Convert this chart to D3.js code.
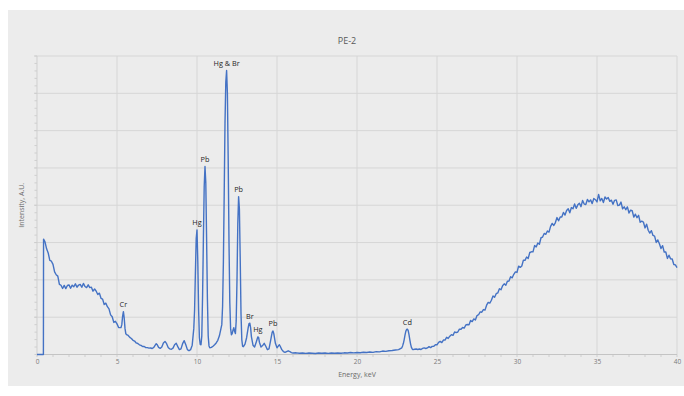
<!DOCTYPE html>
<html><head><meta charset="utf-8">
<script src="https://cdn.jsdelivr.net/npm/d3@7"></script>
<style>html,body{margin:0;padding:0;background:#fff;}svg{display:block;font-family:"Open Sans","Noto Sans",sans-serif;}</style>
</head><body>
<svg id="chart" width="684" height="396"></svg>
<script>
const chartTitle = "PE-2";
const xLabel = "Energy, keV";
const yLabel = "Intensity, A.U.";
const xTicks = [0,5,10,15,20,25,30,35,40];
const yGrid = [0,1000,2000,3000,4000,5000,6000,7000,8000];

// spectrum: [energy keV, intensity]
const lowEnergy = [
 [0,0],[0.4,0],[0.41,3090],[0.5,3018],[0.6,2832],[0.7,2722],[0.8,2520],[0.9,2500],[1.0,2414],
 [1.1,2214],[1.2,2138],[1.3,2100],[1.4,1882],[1.5,1856],[1.6,1770],[1.7,1852],[1.8,1766],[1.9,1849],
 [2.0,1866],[2.1,1775],[2.2,1858],[2.3,1816],[2.4,1894],[2.5,1803],[2.6,1862],[2.7,1880],[2.8,1802],
 [2.9,1905],[3.0,1822],[3.1,1794],[3.2,1868],[3.3,1794],[3.4,1804],[3.5,1696],[3.6,1756],[3.7,1696],
 [3.8,1608],[3.9,1644],[4.0,1506],[4.1,1483],[4.2,1340],[4.3,1377],[4.4,1282],[4.5,1223],[4.6,1062],
 [4.7,1012],[4.8,860],[4.9,890],[5.0,820],[5.1,724],[5.2,720]
];
const peakRegion = [
 [5.25,720],[5.3,800],[5.35,1020],[5.4,1150],[5.45,980],[5.5,700],[5.55,560],[5.6,530],[5.7,510],
 [5.8,460],[5.9,430],[6.0,380],[6.1,360],[6.2,310],[6.3,295],[6.4,260],[6.5,245],[6.6,215],[6.7,215],
 [6.8,185],[6.9,185],[7.0,170],[7.1,175],[7.2,160],[7.3,190],[7.4,260],[7.45,290],[7.5,270],[7.6,190],
 [7.7,165],[7.8,200],[7.9,310],[8.0,350],[8.1,290],[8.2,190],[8.3,150],[8.4,140],[8.5,170],[8.6,260],
 [8.7,300],[8.8,210],[8.9,130],[9.0,150],[9.1,290],[9.2,370],[9.3,260],[9.4,130],[9.5,100],[9.6,130],
 [9.7,250],[9.8,700],[9.85,1200],[9.9,2200],[9.95,3100],[10.0,3340],[10.05,2500],[10.1,1200],[10.15,450],
 [10.2,270],[10.25,260],[10.3,500],[10.35,1600],[10.4,3100],[10.45,4500],[10.5,5040],[10.55,4600],
 [10.6,3100],[10.65,1500],[10.7,500],[10.75,230],[10.8,180],[10.9,190],[11.0,220],[11.1,260],[11.2,310],
 [11.3,380],[11.4,500],[11.5,700],[11.55,800],[11.6,1300],[11.65,2500],[11.7,4300],[11.75,6200],
 [11.8,7300],[11.85,7610],[11.9,7000],[11.95,5200],[12.0,3000],[12.05,1400],[12.1,700],[12.15,530],
 [12.2,560],[12.25,650],[12.3,720],[12.35,620],[12.4,560],[12.45,900],[12.5,2000],[12.55,3500],
 [12.6,4230],[12.65,3900],[12.7,2600],[12.75,1100],[12.8,400],[12.85,220],[12.9,210],[13.0,280],
 [13.1,450],[13.2,720],[13.25,830],[13.3,840],[13.35,720],[13.4,480],[13.5,250],[13.6,200],[13.7,330],
 [13.8,470],[13.85,460],[13.9,330],[14.0,200],[14.1,240],[14.2,300],[14.3,220],[14.4,130],[14.5,150],
 [14.6,370],[14.7,600],[14.75,630],[14.8,560],[14.9,300],[15.0,180],[15.1,240],[15.15,260],[15.2,220],
 [15.3,130],[15.4,80],[15.5,60],[15.6,80],[15.7,100],[15.8,80],[15.9,50],[16.0,40]
];
const midRegion = [
 [16.2,45],[16.4,35],[16.6,42],[16.8,30],[17.0,40],[17.2,35],[17.4,28],[17.6,40],[17.8,33],[18.0,42],
 [18.2,30],[18.4,40],[18.6,35],[18.8,42],[19.0,33],[19.2,45],[19.4,40],[19.6,52],[19.8,44],[20.0,55],
 [20.2,48],[20.4,62],[20.6,55],[20.8,66],[21.0,58],[21.2,76],[21.4,70],[21.6,92],[21.8,84],[22.0,102],
 [22.2,108],[22.4,122],[22.6,130],[22.8,180],[22.85,230],[22.9,300],[22.95,400],[23.0,520],[23.05,620],
 [23.1,670],[23.15,680],[23.2,640],[23.25,530],[23.3,400],[23.35,280],[23.4,190],[23.45,150],[23.5,130],
 [23.6,140]
];
const highEnergy = [
 [23.7,147],[23.8,135],[23.9,148],[24.0,135],[24.1,163],[24.2,176],[24.3,161],[24.4,176],[24.5,210],
 [24.6,184],[24.7,217],[24.8,222],[24.9,264],[25.0,260],[25.1,324],[25.2,351],[25.3,320],[25.4,388],
 [25.5,386],[25.6,460],[25.7,431],[25.8,491],[25.9,530],[26.0,512],[26.1,603],[26.2,586],[26.3,603],
 [26.4,680],[26.5,676],[26.6,724],[26.7,708],[26.8,791],[26.9,804],[27.0,795],[27.1,911],[27.2,882],
 [27.3,953],[27.4,924],[27.5,1045],[27.6,1066],[27.7,1142],[27.8,1133],[27.9,1204],[28.0,1190],
 [28.1,1321],[28.2,1397],[28.3,1378],[28.4,1454],[28.5,1570],[28.6,1532],[28.7,1629],[28.8,1651],
 [28.9,1763],[29.0,1735],[29.1,1842],[29.2,1894],[29.3,1856],[29.4,1963],[29.5,1970],[29.6,2085],
 [29.7,2055],[29.8,2150],[29.9,2215],[30.0,2200],[30.1,2368],[30.2,2335],[30.3,2372],[30.4,2528],
 [30.5,2523],[30.6,2612],[30.7,2575],[30.8,2734],[30.9,2753],[31.0,2751],[31.1,2919],[31.2,2884],
 [31.3,2989],[31.4,2954],[31.5,3129],[31.6,3148],[31.7,3244],[31.8,3221],[31.9,3310],[32.0,3280],
 [32.1,3435],[32.2,3513],[32.3,3458],[32.4,3536],[32.5,3670],[32.6,3584],[32.7,3687],[32.8,3685],
 [32.9,3809],[33.0,3737],[33.1,3862],[33.2,3907],[33.3,3799],[33.4,3938],[33.5,3906],[33.6,4035],
 [33.7,3916],[33.8,4011],[33.9,4055],[34.0,3962],[34.1,4129],[34.2,4032],[34.3,4021],[34.4,4154],
 [34.5,4091],[34.6,4144],[34.7,4043],[34.8,4181],[34.9,4149],[35.0,4090],[35.1,4290],[35.2,4120],
 [35.3,4182],[35.4,4073],[35.5,4220],[35.6,4167],[35.7,4208],[35.8,4104],[35.9,4137],[36.0,4025],
 [36.1,4131],[36.2,4143],[36.3,3993],[36.4,4005],[36.5,4085],[36.6,3906],[36.7,3957],[36.8,3879],
 [36.9,3956],[37.0,3793],[37.1,3870],[37.2,3853],[37.3,3683],[37.4,3760],[37.5,3666],[37.6,3729],
 [37.7,3544],[37.8,3573],[37.9,3551],[38.0,3392],[38.1,3493],[38.2,3330],[38.3,3253],[38.4,3320],
 [38.5,3191],[38.6,3174],[38.7,3003],[38.8,3071],[38.9,2969],[39.0,2840],[39.1,2917],[39.2,2746],
 [39.3,2746],[39.4,2575],[39.5,2660],[39.6,2563],[39.7,2560],[39.8,2412],[39.9,2401],[40.0,2330]
];
const peakLabels = [
 ["Cr",5.4],["Hg",10.0],["Pb",10.5],["Hg & Br",11.85],["Pb",12.6],["Br",13.3],["Hg",13.8],["Pb",14.75],["Cd",23.15]
];

const spectrum = lowEnergy.concat(peakRegion, midRegion, highEnergy);

const svg = d3.select("#chart");
svg.append("rect").attr("x",8).attr("y",10).attr("width",676).attr("height",376).attr("fill","#ececec");

const m = {l:37, r:677, t:56, b:354.5};
const x = d3.scaleLinear().domain([0,40]).range([m.l,m.r]);
const y = d3.scaleLinear().domain([0,8000]).range([m.b,m.t]);

// gridlines
svg.append("g").selectAll("line").data(yGrid.slice(1)).join("line")
  .attr("x1",m.l-3).attr("x2",m.r).attr("y1",d=>y(d)).attr("y2",d=>y(d))
  .attr("stroke","#d6d6d6").attr("stroke-width",1);
svg.append("g").selectAll("line").data(xTicks.slice(1)).join("line")
  .attr("x1",d=>x(d)).attr("x2",d=>x(d)).attr("y1",m.t).attr("y2",m.b)
  .attr("stroke","#d6d6d6").attr("stroke-width",1);

// minor ticks
const xMinor = d3.range(0,41,1);
svg.append("g").selectAll("line").data(xMinor).join("line")
  .attr("x1",d=>x(d)).attr("x2",d=>x(d)).attr("y1",m.b).attr("y2",m.b+2.5)
  .attr("stroke","#c8c8c8").attr("stroke-width",0.8);
const yMinor = d3.range(0,8001,200);
svg.append("g").selectAll("line").data(yMinor).join("line")
  .attr("x1",m.l-2.5).attr("x2",m.l).attr("y1",d=>y(d)).attr("y2",d=>y(d))
  .attr("stroke","#c8c8c8").attr("stroke-width",0.8);

// axis lines
svg.append("line").attr("x1",m.l).attr("x2",m.l).attr("y1",m.t).attr("y2",m.b).attr("stroke","#cfcfcf");
svg.append("line").attr("x1",m.l).attr("x2",m.r).attr("y1",m.b).attr("y2",m.b).attr("stroke","#c4c4c4");

// x axis tick labels
const xAxis = d3.axisBottom(x).tickValues(xTicks).tickSize(0).tickPadding(5);
const gx = svg.append("g").attr("transform",`translate(0,${m.b})`).call(xAxis);
gx.select(".domain").remove();
gx.selectAll("text").attr("fill","#7a7a7a").attr("font-size","6.5px").attr("font-family","'Open Sans',sans-serif");

// titles
svg.append("text").attr("x",347).attr("y",44).attr("text-anchor","middle")
  .attr("font-size","9px").attr("fill","#595959").text(chartTitle);
svg.append("text").attr("x",x(20)).attr("y",377).attr("text-anchor","middle")
  .attr("font-size","7px").attr("fill","#6a6a6a").text(xLabel);
svg.append("text").attr("transform",`translate(24,${(m.t+m.b)/2}) rotate(-90)`).attr("text-anchor","middle")
  .attr("font-size","7px").attr("fill","#6a6a6a").text(yLabel);

// spectrum line
const line = d3.line().x(d=>x(d[0])).y(d=>y(d[1]));
svg.append("path").datum(spectrum).attr("d",line).attr("fill","none")
  .attr("stroke","#4472c4").attr("stroke-width",1.4).attr("stroke-linejoin","round");

// peak labels
svg.append("g").selectAll("text").data(peakLabels).join("text")
  .attr("x",d=>x(d[1]))
  .attr("y",d=>{
    const near = spectrum.filter(p=>Math.abs(p[0]-d[1])<=0.06);
    return y(d3.max(near,p=>p[1]))-4.5;
  })
  .attr("text-anchor","middle").attr("font-size","7.3px").attr("fill","#262626")
  .text(d=>d[0]);
</script>
</body></html>
